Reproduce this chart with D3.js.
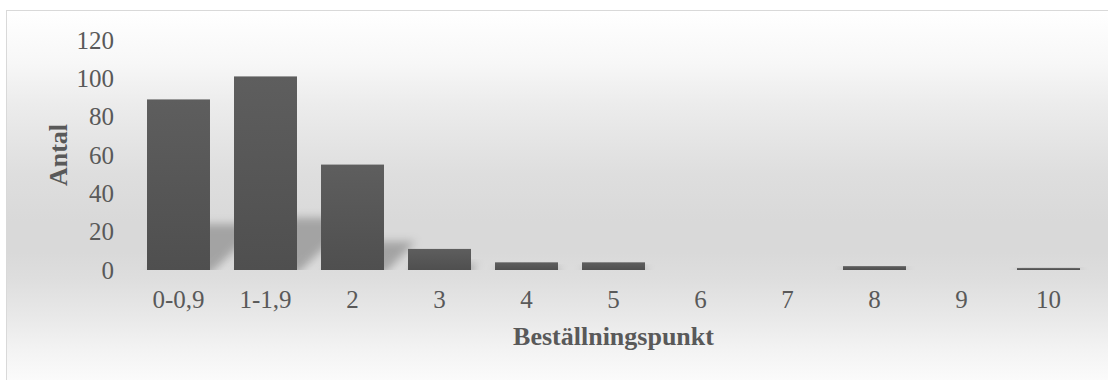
<!DOCTYPE html>
<html>
<head>
<meta charset="utf-8">
<script src="https://cdn.jsdelivr.net/npm/d3@7"></script>
<style>
  body { margin: 0; background: #ffffff; }
  svg { display: block; }
</style>
</head>
<body>
<div class="bar_chart"></div>
<script>
const categories = ['0-0,9', '1-1,9', '2', '3', '4', '5', '6', '7', '8', '9', '10'];
const counts = [89, 101, 55, 11, 4, 4, 0, 0, 2, 0, 1];
const yTicks = [0, 20, 40, 60, 80, 100, 120];

const data = categories.map((c, i) => ({ name: c, value: counts[i] }));

const width = 1108;
const height = 380;
const margin = { top: 40, bottom: 110, left: 135, right: 16 };

const textColor = '#595959';
const fontFamily = '"Liberation Serif", "Times New Roman", serif';

const svg = d3.select('.bar_chart')
    .append('svg')
    .attr('width', width)
    .attr('height', height);

const defs = svg.append('defs');

// chart area background, light at top and bottom, grey in the middle
const bg = defs.append('linearGradient')
    .attr('id', 'bgGrad')
    .attr('x1', 0).attr('y1', 0).attr('x2', 0).attr('y2', 1);
[
    [0, '#ffffff'], [0.135, '#f7f7f7'], [0.24, '#ececec'], [0.42, '#dedede'],
    [0.54, '#d9d9d9'], [0.62, '#d9d9d9'], [0.69, '#dedede'], [0.78, '#e8e8e8'],
    [0.87, '#f3f3f3'], [0.96, '#fcfcfc'], [1, '#ffffff']
].forEach(s => bg.append('stop').attr('offset', s[0]).attr('stop-color', s[1]));

const barGrad = defs.append('linearGradient')
    .attr('id', 'barGrad')
    .attr('x1', 0).attr('y1', 0).attr('x2', 0).attr('y2', 1);
barGrad.append('stop').attr('offset', 0).attr('stop-color', '#5e5e5e');
barGrad.append('stop').attr('offset', 1).attr('stop-color', '#4f4f4f');

defs.append('filter')
    .attr('id', 'shadowBlur')
    .attr('x', '-50%').attr('y', '-50%').attr('width', '200%').attr('height', '200%')
    .append('feGaussianBlur')
    .attr('stdDeviation', 4);

svg.append('rect')
    .attr('x', 6.5)
    .attr('y', 10.5)
    .attr('width', width + 10)
    .attr('height', height + 10)
    .attr('fill', 'url(#bgGrad)')
    .attr('stroke', '#d9d9d9')
    .attr('stroke-width', 1);

const xScale = d3.scaleBand()
    .domain(categories)
    .range([margin.left, width - margin.right])
    .paddingInner(0.276)
    .paddingOuter(0.138);

const yScale = d3.scaleLinear()
    .domain([0, 120])
    .range([height - margin.bottom, margin.top]);

const base = yScale(0);

defs.append('clipPath')
    .attr('id', 'floorClip')
    .append('rect')
    .attr('x', 0).attr('y', 0)
    .attr('width', width).attr('height', base);

// perspective shadows falling back to the right
svg.append('g')
    .attr('clip-path', 'url(#floorClip)')
    .selectAll('polygon')
    .data(data.filter(d => d.value > 0))
    .enter()
    .append('polygon')
    .attr('points', d => {
        const h = base - yScale(d.value);
        const x0 = xScale(d.name);
        const x1 = x0 + xScale.bandwidth();
        const dx = 0.3 * h, dy = 0.27 * h;
        return [[x0, base + 4], [x1, base + 4], [x1 + dx, base - dy], [x0 + dx, base - dy]]
            .map(p => p.join(',')).join(' ');
    })
    .attr('fill', '#6e6e6e')
    .attr('opacity', 0.5)
    .attr('filter', 'url(#shadowBlur)');

svg.selectAll('.bar')
    .data(data.filter(d => d.value > 0))
    .enter()
    .append('rect')
    .attr('class', 'bar')
    .attr('x', d => xScale(d.name))
    .attr('y', d => yScale(d.value))
    .attr('width', xScale.bandwidth())
    .attr('height', d => base - yScale(d.value))
    .attr('fill', 'url(#barGrad)');

// y axis, labels only
const yAxis = svg.append('g')
    .attr('transform', `translate(${margin.left - 21}, 0)`)
    .call(d3.axisLeft(yScale).tickValues(yTicks).tickSize(0).tickPadding(0));
yAxis.select('.domain').remove();
yAxis.selectAll('text')
    .attr('fill', textColor)
    .style('font-family', fontFamily)
    .style('font-size', '25px');

// x axis, labels only
const xAxis = svg.append('g')
    .attr('transform', `translate(0, ${base})`)
    .call(d3.axisBottom(xScale).tickSize(0).tickPadding(20));
xAxis.select('.domain').remove();
xAxis.selectAll('text')
    .attr('fill', textColor)
    .style('font-family', fontFamily)
    .style('font-size', '25px');

svg.append('text')
    .attr('x', (margin.left + width - margin.right) / 2)
    .attr('y', 345)
    .attr('text-anchor', 'middle')
    .attr('fill', textColor)
    .style('font-family', fontFamily)
    .style('font-size', '26px')
    .style('font-weight', 'bold')
    .text('Beställningspunkt');

svg.append('text')
    .attr('transform', 'rotate(-90)')
    .attr('x', -(margin.top + base) / 2)
    .attr('y', 67)
    .attr('text-anchor', 'middle')
    .attr('fill', textColor)
    .style('font-family', fontFamily)
    .style('font-size', '26px')
    .style('font-weight', 'bold')
    .text('Antal');
</script>
</body>
</html>
